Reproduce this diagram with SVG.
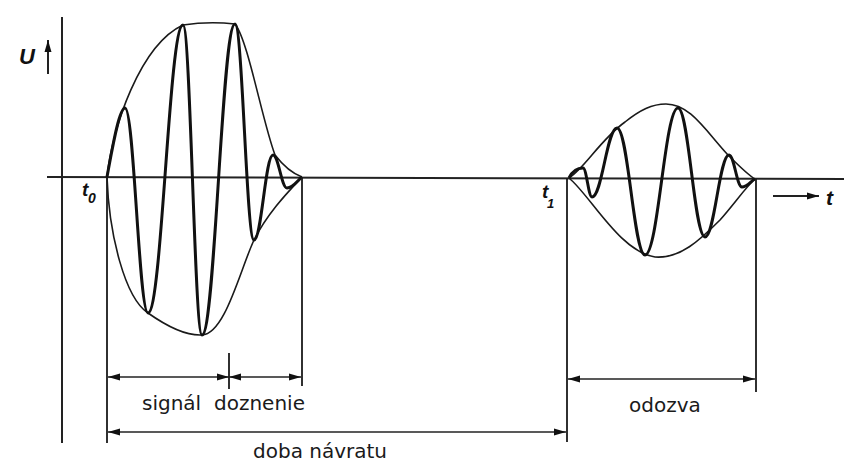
<svg xmlns="http://www.w3.org/2000/svg" width="866" height="467" viewBox="0 0 866 467">
<style>
.axis{stroke:#222;stroke-width:2;fill:none}
.ext{stroke:#1a1a1a;stroke-width:1.8;fill:none}
.env{stroke:#1a1a1a;stroke-width:1.6;fill:none}
.wave{stroke:#111;stroke-width:3;fill:none;stroke-linejoin:round}
.dim{stroke:#222;stroke-width:1.6;fill:none}
.lbl{font-family:"DejaVu Sans",Verdana,sans-serif;font-size:20px;fill:#1a1a1a}
.sym{font-family:"Liberation Sans",Arial,sans-serif;font-style:italic;font-weight:bold;fill:#111}
</style>
<defs>
<marker id="ah" viewBox="0 0 12 8" refX="12" refY="4" markerWidth="12" markerHeight="8" markerUnits="userSpaceOnUse" orient="auto-start-reverse">
<path d="M0,0.5 L12,4 L0,7.5 z" fill="#111"/>
</marker>
</defs>
<g id="axes">
<line class="axis" x1="62" y1="17" x2="62" y2="443"/>
<line class="axis" x1="47" y1="177" x2="844" y2="179"/>
<line class="axis" x1="48" y1="74" x2="48" y2="40" marker-end="url(#ah)"/>
<line class="axis" x1="773" y1="196" x2="819" y2="196" marker-end="url(#ah)"/>
<text class="sym" x="19" y="64" font-size="22">U</text>
<text class="sym" x="826" y="205" font-size="21">t</text>
<text class="sym" x="82" y="196" font-size="19">t</text>
<text class="sym" x="88" y="203" font-size="14">0</text>
<text class="sym" x="542" y="198" font-size="19">t</text>
<text class="sym" x="547" y="208" font-size="13">1</text>
</g>
<g id="signal">
<path class="env" d="M107,177 C112,128 140,45 183,25 Q209,21 235,24 C248,40 262,120 275,155 C285,168 294,174 302,177"/>
<path class="env" d="M107,177 C109,235 125,298 148,313 C165,325 185,336 202,335 C225,334 240,270 254,240 C268,212 290,190 302,177"/>
<path class="wave" d="M107,177 C112,150 119,108 125,108 C134.2,108 138.8,313 148,313 C162,313 169,25 183,25 C190.6,25 194.4,335 202,335 C215.2,335 221.8,24 235,24 C242.6,24 246.4,240 254,240 C261.6,240 265.4,155 273,155 C278.6,155 281.4,188 287,188 C293,188 298,180 302,177"/>
</g>
<g id="response">
<path class="env" d="M569,178 C585,168 600,140 625,122 C640,110 652,104 666,104 C690,104 705,130 728,155 C740,167 748,175 755,179"/>
<path class="env" d="M569,178 C590,195 620,252 655,257 C680,259 700,240 720,220 C735,203 745,188 755,179"/>
<path class="wave" d="M569,178 C573,170 578,168 583,168 C586.6,168 588.4,197 592,197 C602,197 607,128 617,128 C628.2,128 633.8,255 645,255 C658.2,255 664.8,108 678,108 C688.8,108 694.2,237 705,237 C714.6,237 719.4,155 729,155 C734.2,155 736.8,187 742,187 C747,187 751,181 755,179"/>
</g>
<g id="connectors">
<line class="ext" x1="107" y1="177" x2="107" y2="443"/>
<line class="ext" x1="302" y1="177" x2="302" y2="386"/>
<line class="ext" x1="229" y1="353" x2="229" y2="389"/>
<line class="ext" x1="567" y1="178" x2="567" y2="442"/>
<line class="ext" x1="756" y1="179" x2="756" y2="392"/>
<line class="dim" x1="108" y1="377" x2="229" y2="377" marker-start="url(#ah)" marker-end="url(#ah)"/>
<line class="dim" x1="229" y1="377" x2="301" y2="377" marker-start="url(#ah)" marker-end="url(#ah)"/>
<line class="dim" x1="568" y1="379" x2="755" y2="379" marker-start="url(#ah)" marker-end="url(#ah)"/>
<line class="dim" x1="108" y1="432" x2="566" y2="432" marker-start="url(#ah)" marker-end="url(#ah)"/>
</g>
<g id="labels">
<text class="lbl" x="142" y="410">signál</text>
<text class="lbl" x="214" y="410">doznenie</text>
<text class="lbl" x="629" y="412">odozva</text>
<text class="lbl" x="253" y="458">doba návratu</text>
</g>
</svg>
